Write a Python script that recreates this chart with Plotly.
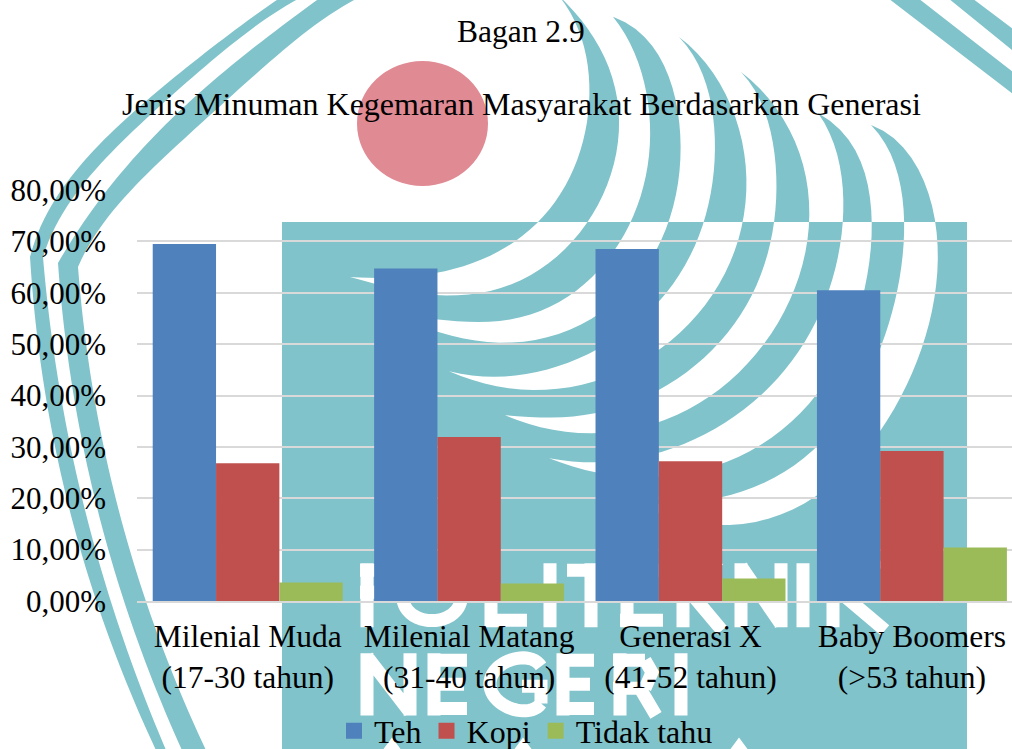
import numpy as np
import plotly.graph_objects as go

categories = ["Milenial Muda<br>(17-30 tahun)", "Milenial Matang<br>(31-40 tahun)",
              "Generasi X<br>(41-52 tahun)", "Baby Boomers<br>(>53 tahun)"]
teh = [69.5, 64.7, 68.5, 60.5]
kopi = [26.8, 31.9, 27.2, 29.2]
tidak_tahu = [3.6, 3.4, 4.4, 10.4]

W, H = 1012, 749
L, R_EDGE, T, B = 137, 1012, 190, 600.7
FONT = "Liberation Serif"
TEAL = "#80C3CB"
COLORS = {"Teh": "#4F81BD", "Kopi": "#C0504D", "Tidak tahu": "#9BBB59"}


def px(x, y):
    return (x - L) / (R_EDGE - L), (B - y) / (B - T)


def fmt(p):
    a, b = px(*p)
    return f"{a:.5f},{b:.5f}"


def fit(pts, deg=6, n=48):
    """Smooth an outline traced off the watermark: least-squares curve, ends held."""
    p = np.array(pts, float)
    d = np.r_[0, np.cumsum(np.hypot(*np.diff(p, axis=0).T))]
    t = d / d[-1]
    w = np.ones(len(p))
    w[0] = w[-1] = 30
    k = min(deg, len(p) - 2)
    fx = np.polyfit(t, p[:, 0], k, w=w)
    fy = np.polyfit(t, p[:, 1], k, w=w)
    u = np.linspace(0, 1, n)
    return list(zip(np.polyval(fx, u), np.polyval(fy, u)))


def poly(pts):
    return "M" + "L".join(fmt(p) for p in pts)


def closed(*curves):
    pts = []
    for c in curves:
        pts += fit(c)
    return poly(pts) + "Z"


# ---- watermark crescents: outer edge from the top tip to the left tip, then back
crescents = [
    ([(559, -4), (586, 27), (609, 67), (619, 123), (609, 180), (587, 222), (537, 272), (483, 292), (437, 295), (350, 277)],
     [(350, 277), (437, 273), (483, 258), (523, 235), (541, 222), (566, 180), (586, 133), (589, 83), (583, 43), (559, -4)]),
    ([(613, 17), (653, 47), (676, 100), (681, 147), (676, 187), (669, 222), (640, 275), (595, 318), (553, 335), (503, 342), (437, 332), (395, 318)],
     [(395, 318), (483, 322), (537, 312), (595, 275), (629, 222), (646, 183), (649, 140), (648, 100), (636, 57), (613, 17)]),
    ([(679, 37), (719, 83), (739, 127), (746, 173), (742, 222), (715, 293), (692, 323), (659, 345), (595, 383), (537, 390), (490, 384), (449, 371)],
     [(449, 371), (537, 372), (595, 350), (659, 302), (703, 222), (714, 177), (714, 133), (706, 83), (679, 37)]),
    ([(741, 72), (783, 120), (803, 160), (809, 200), (808, 222), (795, 290), (762, 345), (715, 393), (659, 422), (595, 433), (545, 428), (505, 415)],
     [(505, 415), (595, 413), (659, 390), (718, 343), (753, 293), (775, 222), (776, 187), (774, 157), (766, 113), (741, 72)]),
    ([(818, 113), (853, 147), (868, 183), (872, 222), (865, 290), (845, 340), (817, 397), (762, 445), (722, 463), (660, 475), (595, 473), (549, 458)],
     [(549, 458), (595, 462), (659, 453), (722, 423), (765, 393), (802, 345), (817, 318), (830, 290), (842, 222), (843, 187), (836, 150), (818, 113)]),
    ([(871, 125), (906, 150), (926, 187), (935, 222), (935, 292), (923, 348), (880, 428), (817, 498), (768, 517), (722, 525), (680, 520), (640, 505)],
     [(640, 505), (722, 497), (768, 480), (817, 447), (880, 348), (897, 292), (904, 222), (903, 200), (893, 160), (871, 125)]),
]
rect_pts = [(282, 222), (967, 222), (967, 760), (282, 760)]
path_main = poly(rect_pts) + "Z" + "".join(closed(a, b) for a, b in crescents)

# left double arcs
arc_outer = ([(280, -2), (217, 43), (173, 80), (120, 123), (77, 170), (30, 257)],
             [(30, 257), (43, 375), (83, 560), (157, 752)],
             [(167, 752), (100, 560), (55, 373), (43, 257)],
             [(43, 257), (87, 180), (130, 133), (187, 83), (233, 43), (300, -2)])
arc_inner = ([(320, -2), (267, 37), (207, 87), (143, 147), (100, 200), (58, 263)],
             [(58, 263), (68, 373), (110, 550), (183, 752)],
             [(207, 752), (130, 550), (90, 373), (78, 267)],
             [(78, 267), (110, 213), (167, 157), (217, 107), (293, 43), (358, -2)])
path_arcs = closed(*arc_outer) + closed(*arc_inner)

# top right stripes
stripe_a = [(889, -1), (1013, 94), (1013, 72), (919, -1)]
stripe_b = [(949, -1), (1013, 51), (1013, 29), (973, -1)]
path_stripes = poly(stripe_a) + "Z" + poly(stripe_b) + "Z"

# white watermark lettering, as straight strokes
letter_strokes = [
    # POLITEKNIK
    [(367, 563), (367, 627)], [(360, 570), (395, 570)], [(360, 592), (395, 592)],
    [(491, 563), (491, 627)], [(485, 620), (527, 620)],
    [(550, 563), (550, 627)],
    [(567, 570), (617, 570)], [(591, 563), (591, 627)],
    [(627, 563), (627, 627)], [(620, 620), (663, 620)], [(620, 592), (658, 592)], [(620, 570), (663, 570)],
    [(683, 563), (683, 627)], [(718, 560), (688, 597)], [(690, 592), (722, 630)],
    [(741, 563), (741, 627)], [(741, 566), (781, 624)], [(781, 563), (781, 627)],
    [(803, 563), (803, 627)],
    [(833, 563), (833, 627)], [(880, 560), (838, 597)], [(840, 592), (885, 630)],
    # NEGERI
    [(367, 653), (367, 715)], [(367, 656), (410, 712)], [(410, 653), (410, 715)],
    [(434, 653), (434, 715)], [(428, 660), (467, 660)], [(428, 684), (464, 684)], [(428, 708), (467, 708)],
    [(563, 653), (563, 715)], [(557, 660), (594, 660)], [(557, 684), (590, 684)], [(557, 708), (594, 708)],
    [(620, 653), (620, 715)], [(613, 660), (645, 660)], [(613, 688), (645, 688)], [(640, 688), (656, 715)],
    [(681, 653), (681, 715)],
]
path_letters = "".join(poly(s) for s in letter_strokes)

path_round = (
    poly(fit([(403, 590), (410, 612), (432, 621), (454, 612), (461, 590)], deg=3)) + poly([(645, 660), (652, 672), (645, 688)])
    + poly(fit([(541, 666), (520, 659), (500, 664), (489, 684), (500, 703), (520, 709), (541, 703)], deg=4))
    + poly([(541, 703), (541, 686), (522, 686)]) + poly([(395, 570), (402, 581), (395, 592)])
)
path_tops = "".join(poly([(c - 11, 752), (c, 737), (c + 11, 752)]) + "Z" for c in (392, 523, 739))

shapes = [
    dict(type="path", path=path_arcs, fillcolor=TEAL, line_width=0),
    dict(type="path", path=path_stripes, fillcolor=TEAL, line_width=0),
    dict(type="path", path=path_main, fillcolor=TEAL, line_width=0),
    dict(type="path", path=path_letters + path_round, fillcolor="rgba(0,0,0,0)", line=dict(color="white", width=13)),
    dict(type="path", path=path_tops, fillcolor="white", line_width=0),
]
cx0, cy0 = px(357, 186)
cx1, cy1 = px(488, 61)
shapes.append(dict(type="circle", x0=cx0, y0=cy0, x1=cx1, y1=cy1, fillcolor="#E08A94", line_width=0))
for s in shapes:
    s.update(xref="paper", yref="paper", layer="below")

fig = go.Figure()
for name, vals in [("Teh", teh), ("Kopi", kopi), ("Tidak tahu", tidak_tahu)]:
    fig.add_bar(name=name, x=categories, y=vals, legendgroup=name, showlegend=False,
                marker=dict(color=COLORS[name], line_width=0))
# legend keys: square swatches at the reference's size
for name in COLORS:
    fig.add_scatter(name=name, x=[None], y=[None], mode="markers", legendgroup=name,
                    marker=dict(symbol="square", size=16, color=COLORS[name], line_width=0))

_, head_y = px(0, 32)
fig.update_layout(
    width=W, height=H,
    margin=dict(l=L, r=0, t=T, b=H - B, pad=0, autoexpand=False),
    paper_bgcolor="white", plot_bgcolor="rgba(0,0,0,0)",
    separators=",.",
    barmode="group", bargap=0.142, bargroupgap=0,
    font=dict(family=FONT, color="black"),
    title=dict(text="Jenis Minuman Kegemaran Masyarakat Berdasarkan Generasi",
               x=521.5 / W, xanchor="center", y=1 - 104 / H, yanchor="middle",
               font=dict(family=FONT, size=32)),
    annotations=[dict(text="Bagan 2.9", xref="paper", yref="paper", x=(521 - L) / (R_EDGE - L), y=head_y,
                      xanchor="center", yanchor="middle", showarrow=False, font=dict(family=FONT, size=31.5))],
    showlegend=True,
    legend=dict(orientation="h", x=526 / W, xanchor="center", xref="container",
                y=1 - 731 / H, yref="container", yanchor="middle", font=dict(family=FONT, size=32),
                bgcolor="rgba(0,0,0,0)", traceorder="normal", itemclick=False, itemdoubleclick=False),
    shapes=shapes,
)
fig.update_xaxes(range=[-0.5, 3.452], type="category", showgrid=False, showline=True, linecolor="#D9D9D9", linewidth=2,
                 ticks="", tickfont=dict(family=FONT, size=31.5), ticklabelstandoff=6, automargin=False, tickangle=0)
fig.update_yaxes(range=[0, 80], dtick=10, tickformat=".2f", ticksuffix="%", showgrid=True, gridcolor="#D9D9D9", gridwidth=1.5,
                 zeroline=False, showline=False, ticks="", tickfont=dict(family=FONT, size=31), ticklabelstandoff=30, automargin=False)

fig.write_html("out.html", config=dict(displayModeBar=False),
               post_script="document.body.style.margin='0';document.documentElement.style.overflow='hidden';")
